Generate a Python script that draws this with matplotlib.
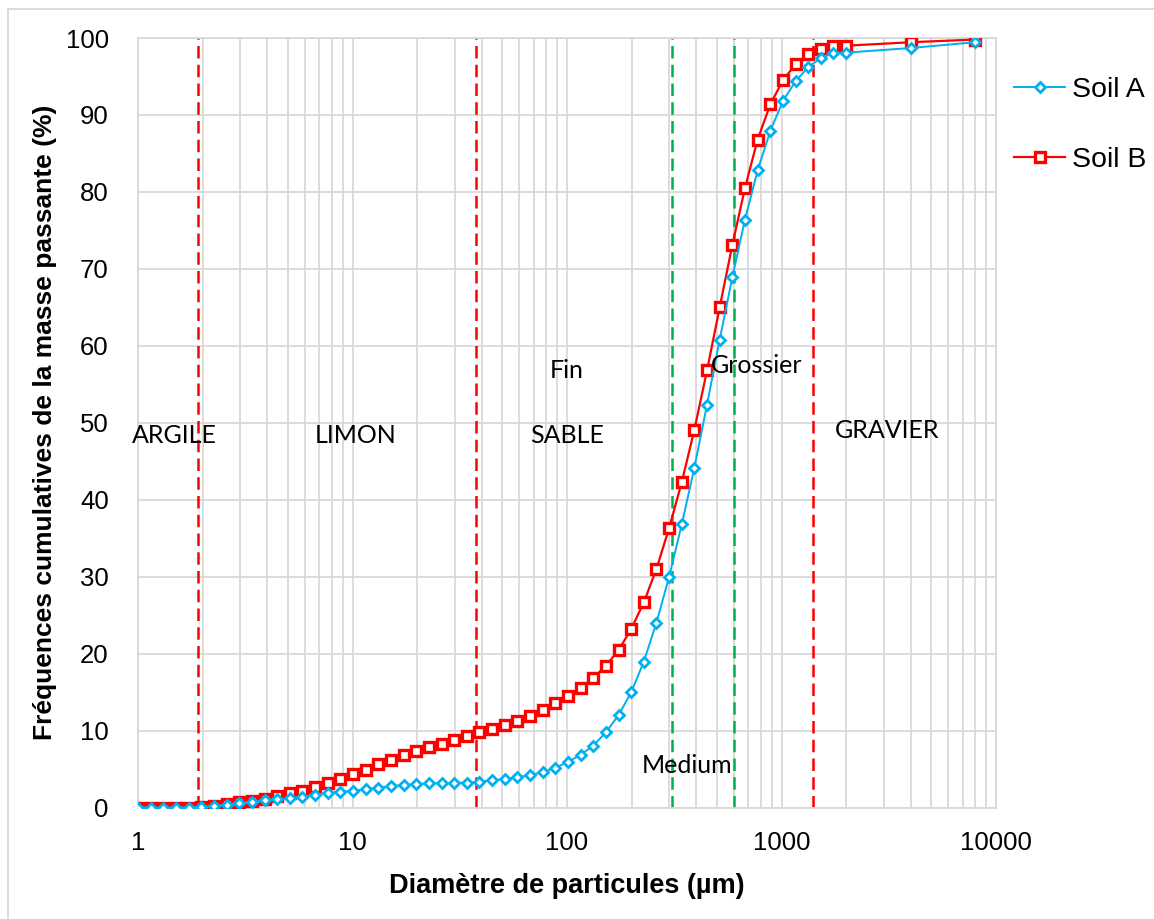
import matplotlib
matplotlib.use("Agg")
import matplotlib.pyplot as plt
from matplotlib.lines import Line2D
from matplotlib.ticker import LogLocator, NullFormatter, FixedLocator, FixedFormatter

# Particle diameters (µm)
diam = [1.00, 1.15, 1.31, 1.50, 1.72, 1.97, 2.26, 2.59, 2.96, 3.39,
        3.89, 4.45, 5.10, 5.84, 6.69, 7.66, 8.78, 10.05, 11.51, 13.19,
        15.10, 17.30, 19.82, 22.70, 26.00, 29.78, 34.11, 39.06, 44.74, 51.25,
        58.70, 67.23, 77.01, 88.21, 101.0, 115.7, 132.5, 151.8, 173.9, 199.1,
        228.0, 261.2, 299.2, 342.7, 392.6, 449.6, 515.0, 589.9, 675.6, 773.9,
        886.3, 1015, 1163, 1332, 1525, 1747, 2001, 4000, 8000]

soil_a = [0.0, 0.0, 0.0, 0.0, 0.0, 0.08, 0.2, 0.38, 0.57, 0.75,
          0.92, 1.06, 1.18, 1.40, 1.62, 1.92, 2.05, 2.18, 2.36, 2.57,
          2.79, 2.92, 3.05, 3.14, 3.14, 3.22, 3.22, 3.33, 3.55, 3.70,
          3.92, 4.22, 4.57, 5.15, 5.92, 6.85, 8.03, 9.77, 12.0, 14.96,
          18.94, 24.0, 29.97, 36.78, 44.18, 52.36, 60.8, 68.9, 76.4, 82.8,
          87.9, 91.8, 94.4, 96.2, 97.4, 98.05, 98.1, 98.7, 99.45]

soil_b = [0.0, 0.0, 0.0, 0.0, 0.0, 0.1, 0.23, 0.45, 0.67, 0.88,
          1.14, 1.49, 1.84, 2.18, 2.62, 3.14, 3.66, 4.35, 4.87, 5.6,
          6.17, 6.8, 7.4, 7.9, 8.3, 8.77, 9.3, 9.75, 10.2, 10.71,
          11.27, 11.92, 12.66, 13.53, 14.48, 15.52, 16.82, 18.42, 20.45, 23.18,
          26.65, 31.0, 36.3, 42.27, 49.1, 56.8, 65.0, 73.1, 80.5, 86.8,
          91.36, 94.5, 96.6, 97.86, 98.6, 99.0, 99.0, 99.45, 99.8]

red_limits = [1.9, 37.5, 1400]
green_limits = [310, 600]

zone_labels = ["ARGILE", "LIMON", "SABLE", "Fin", "Grossier", "GRAVIER", "Medium"]
zone_x = [1.48, 10.3, 100, 100, 767, 3110, 361]
zone_y = [48.4, 48.4, 48.4, 56.8, 57.5, 49.0, 5.5]

x_ticks = [1, 10, 100, 1000, 10000]
x_tick_labels = ["1", "10", "100", "1000", "10000"]
y_ticks = [0, 10, 20, 30, 40, 50, 60, 70, 80, 90, 100]

W, H = 1154, 919
fig = plt.figure(figsize=(W / 100, H / 100), dpi=100)
ax = fig.add_axes([138 / W, 1 - 807.5 / H, (996 - 138) / W, (807.5 - 38) / H])

grid_c = "#D9D9D9"
ax.set_xscale("log")
ax.set_xlim(1, 10000)
ax.set_ylim(0, 100)
ax.xaxis.set_major_locator(FixedLocator(x_ticks))
ax.xaxis.set_major_formatter(FixedFormatter(x_tick_labels))
ax.xaxis.set_minor_locator(LogLocator(base=10, subs=range(2, 10), numticks=50))
ax.xaxis.set_minor_formatter(NullFormatter())
ax.set_yticks(y_ticks)
ax.grid(True, which="major", color=grid_c, lw=1.3, zorder=0)
ax.grid(True, which="minor", axis="x", color=grid_c, lw=1.3, zorder=0)
for s in ax.spines.values():
    s.set_color(grid_c)
    s.set_linewidth(1.3)
ax.tick_params(which="both", length=0)
ax.tick_params(axis="y", pad=21, labelsize=18.5)
ax.tick_params(axis="x", pad=17, labelsize=18.5)
for lab in ax.get_xticklabels() + ax.get_yticklabels():
    lab.set_fontfamily("Liberation Sans")

# Limit lines
for xv in red_limits:
    ax.axvline(xv, color="#FF0000", lw=1.8, ls=(0, (5, 2.5)), zorder=2)
for xv in green_limits:
    ax.axvline(xv, color="#00B050", lw=1.8, ls=(0, (5, 2.5)), zorder=2)

ax.plot(diam, soil_a, color="#00B0F0", lw=1.4, marker="D", ms=5.4,
        mfc="white", mec="#00B0F0", mew=2.0, label="Soil A", zorder=4)
ax.plot(diam, soil_b, color="#FF0000", lw=1.6, marker="s", ms=7.4,
        mfc="white", mec="#FF0000", mew=2.4, label="Soil B", zorder=3)

for t, xv, yv in zip(zone_labels, zone_x, zone_y):
    ax.text(xv, yv, t, ha="center", va="center", fontsize=18,
            fontfamily="Lato", color="black", zorder=5)

ax.set_xlabel("Diamètre de particules (µm)", fontsize=19.5, fontweight="bold",
              fontfamily="Liberation Sans", labelpad=13)
ax.set_ylabel("Fréquences cumulatives de la masse passante (%)", fontsize=19,
              fontweight="bold", fontfamily="Liberation Sans", labelpad=6)

leg = fig.legend(loc="upper left", bbox_to_anchor=(1014 / W, 1 - 77 / H),
                 frameon=False, prop={"family": "Liberation Sans", "size": 20.5},
                 handlelength=1.8, handletextpad=0.25, labelspacing=1.55,
                 borderpad=0, borderaxespad=0)

# Outer chart border (left and top visible)
fig.add_artist(Line2D([8 / W, 8 / W], [0, 1 - 9 / H], color=grid_c, lw=1.3,
                      transform=fig.transFigure))
fig.add_artist(Line2D([8 / W, 1], [1 - 9 / H, 1 - 9 / H], color=grid_c, lw=1.3,
                      transform=fig.transFigure))

fig.savefig("out.png", dpi=100, facecolor="white")
